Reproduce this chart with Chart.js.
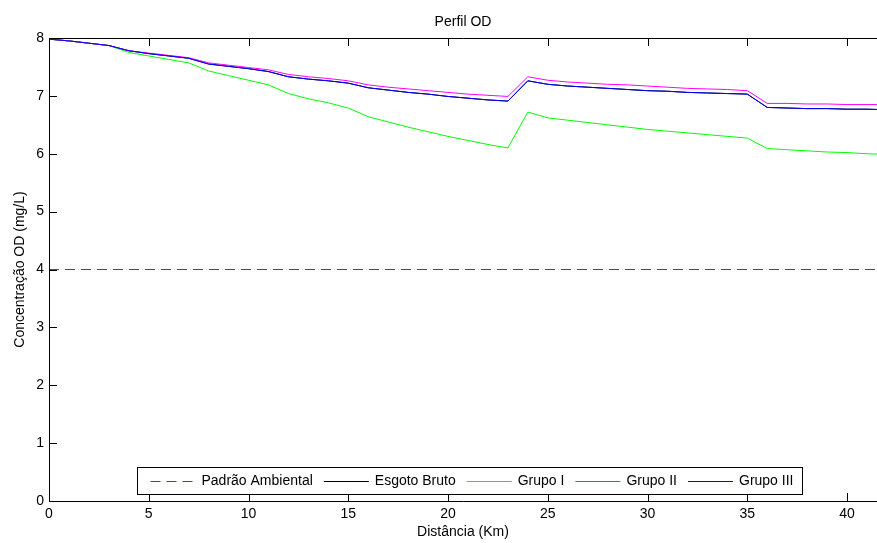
<!DOCTYPE html>
<html>
<head>
<meta charset="utf-8">
<script src="https://cdn.jsdelivr.net/npm/chart.js@4.4.1/dist/chart.umd.min.js"></script>
<style>
  body { margin: 0; background: #fff; }
  #wrap { width: 877px; height: 543px; overflow: hidden; }
</style>
</head>
<body>
<div id="wrap"><canvas id="perfil" width="877" height="543"></canvas></div>
<script>
const distancia = [0, 1, 2, 3, 4, 5, 6, 7, 8, 9, 10, 11, 12, 13, 14, 15, 16, 17, 18, 19, 20,
  21, 22, 23, 24, 25, 26, 27, 28, 29, 30, 31, 32, 33, 34, 35, 36, 37, 38, 39, 40, 41, 42]

const padraoX = [0, 42]
const padraoY = [4, 4]

const grupoIII = [7.98, 7.95, 7.91, 7.87, 7.78, 7.73, 7.69, 7.65, 7.55, 7.51, 7.47, 7.42, 7.33,
  7.29, 7.26, 7.22, 7.14, 7.10, 7.06, 7.03, 6.99, 6.96, 6.93, 6.91, 7.26, 7.20, 7.17, 7.15,
  7.13, 7.11, 7.09, 7.08, 7.06, 7.05, 7.04, 7.03, 6.80, 6.79, 6.78, 6.78, 6.77, 6.77, 6.76]

// esgoto bruto sits under grupo III, it is not visible on the picture
const esgotoBruto = [7.98, 7.95, 7.91, 7.87, 7.78, 7.73, 7.69, 7.65, 7.55, 7.51, 7.47, 7.42, 7.33,
  7.29, 7.26, 7.22, 7.14, 7.10, 7.06, 7.03, 6.99, 6.96, 6.93, 6.91, 7.26, 7.20, 7.17, 7.15,
  7.13, 7.11, 7.09, 7.08, 7.06, 7.05, 7.04, 7.03, 6.80, 6.79, 6.78, 6.78, 6.77, 6.77, 6.76]

const grupoII = [7.98, 7.95, 7.91, 7.87, 7.78, 7.74, 7.70, 7.66, 7.57, 7.53, 7.49, 7.45, 7.37,
  7.33, 7.30, 7.26, 7.19, 7.15, 7.12, 7.09, 7.06, 7.03, 7.01, 6.99, 7.33, 7.27, 7.24, 7.22,
  7.20, 7.19, 7.17, 7.15, 7.13, 7.12, 7.11, 7.09, 6.87, 6.87, 6.86, 6.86, 6.85, 6.85, 6.85]

const grupoI = [7.98, 7.95, 7.91, 7.87, 7.75, 7.69, 7.63, 7.57, 7.43, 7.35, 7.27, 7.19, 7.04,
  6.95, 6.88, 6.79, 6.64, 6.55, 6.46, 6.38, 6.30, 6.23, 6.16, 6.10, 6.72, 6.62, 6.58, 6.54,
  6.50, 6.46, 6.42, 6.39, 6.36, 6.33, 6.30, 6.27, 6.09, 6.07, 6.05, 6.03, 6.02, 6.00, 5.99]

const yTicks = [0, 1, 2, 3, 4, 5, 6, 7, 8]
const xTicks = [0, 5, 10, 15, 20, 25, 30, 35, 40]

function pares(xs, ys) {
  return xs.map((x, i) => ({ x: x, y: ys[i] }))
}

Chart.defaults.font.family = '"Liberation Sans", Arial, sans-serif'
Chart.defaults.font.size = 14
Chart.defaults.color = '#000'

// MATLAB style frame: inward ticks, box on top (right side is cut off in the original)
const moldura = {
  id: 'moldura',
  afterDatasetsDraw(chart) {
    const ctx = chart.ctx
    const a = chart.chartArea
    const x = chart.scales.x
    const y = chart.scales.y
    const len = 8
    ctx.save()
    ctx.strokeStyle = '#000'
    ctx.lineWidth = 1
    ctx.beginPath()
    ctx.moveTo(a.right, Math.round(a.top) + 0.5)
    ctx.lineTo(Math.round(a.left) + 0.5, Math.round(a.top) + 0.5)
    ctx.lineTo(Math.round(a.left) + 0.5, Math.round(a.bottom) + 0.5)
    ctx.lineTo(a.right, Math.round(a.bottom) + 0.5)
    yTicks.forEach(v => {
      const py = Math.round(y.getPixelForValue(v)) + 0.5
      ctx.moveTo(a.left, py)
      ctx.lineTo(a.left + len, py)
    })
    xTicks.forEach(v => {
      const px = Math.round(x.getPixelForValue(v)) + 0.5
      ctx.moveTo(px, a.bottom)
      ctx.lineTo(px, a.bottom - len)
      ctx.moveTo(px, a.top)
      ctx.lineTo(px, a.top + len)
    })
    ctx.stroke()
    ctx.restore()
  }
}

// legend box drawn inside the plot, like the original
const legenda = {
  id: 'legenda',
  afterDraw(chart) {
    const ctx = chart.ctx
    const sets = chart.data.datasets
    const amostra = 45
    ctx.save()
    ctx.font = '14px "Liberation Sans", Arial, sans-serif'
    let total = 13 + 9
    sets.forEach((ds, i) => {
      total += amostra + 6 + ctx.measureText(ds.label).width
      if (i < sets.length - 1) total += 11
    })
    const left = Math.round(469.5 - total / 2) + 0.5
    const top = 467.5
    const h = 27
    ctx.fillStyle = '#fff'
    ctx.fillRect(left, top, total, h)
    ctx.strokeStyle = '#000'
    ctx.lineWidth = 1
    ctx.strokeRect(left, top, Math.round(total), h)
    const cy = top + h / 2
    let cx = left + 13
    sets.forEach(ds => {
      ctx.beginPath()
      ctx.strokeStyle = ds.borderColor
      ctx.lineWidth = ds.borderWidth
      ctx.setLineDash(ds.borderDash || [])
      ctx.moveTo(cx, Math.round(cy) + 0.5)
      ctx.lineTo(cx + amostra, Math.round(cy) + 0.5)
      ctx.stroke()
      ctx.setLineDash([])
      cx += amostra + 6
      ctx.fillStyle = '#000'
      ctx.textBaseline = 'middle'
      ctx.textAlign = 'left'
      ctx.fillText(ds.label, cx, cy)
      cx += ctx.measureText(ds.label).width + 11
    })
    ctx.restore()
  }
}

const linha = (label, pts, cor, order, dash) => ({
  label: label,
  data: pts,
  borderColor: cor,
  backgroundColor: cor,
  borderWidth: 1,
  borderDash: dash || [],
  pointRadius: 0,
  tension: 0,
  fill: false,
  showLine: true,
  order: order
})

new Chart(document.getElementById('perfil').getContext('2d'), {
  type: 'scatter',
  data: {
    datasets: [
      linha('Padrão Ambiental', pares(padraoX, padraoY), '#ff0000', 4, [10, 6]),
      linha('Esgoto Bruto', pares(distancia, esgotoBruto), '#000000', 3),
      linha('Grupo I', pares(distancia, grupoI), '#00ff00', 2),
      linha('Grupo II', pares(distancia, grupoII), '#ff00ff', 1),
      linha('Grupo III', pares(distancia, grupoIII), '#0000ff', 0)
    ]
  },
  options: {
    responsive: false,
    animation: false,
    devicePixelRatio: 1,
    layout: { padding: 0 },
    scales: {
      x: {
        type: 'linear',
        min: 0,
        max: 41.5,
        grid: { display: false, drawTicks: false },
        border: { display: false },
        ticks: { stepSize: 5, includeBounds: false, padding: 5, maxRotation: 0 },
        title: { display: true, text: 'Distância (Km)', padding: { top: 0, bottom: 2 } },
        afterFit: (s) => { s.height = 42 }
      },
      y: {
        min: 0,
        max: 8,
        grid: { display: false, drawTicks: false },
        border: { display: false },
        ticks: { stepSize: 1, padding: 5 },
        title: { display: true, text: 'Concentração OD (mg/L)', padding: { top: 12, bottom: 0 } },
        afterFit: (s) => { s.width = 49 }
      }
    },
    plugins: {
      legend: { display: false },
      tooltip: { enabled: false },
      title: {
        display: true,
        fullSize: false,
        text: 'Perfil OD',
        font: { size: 14, weight: 'normal' },
        padding: { top: 14, bottom: 7.2 }
      }
    }
  },
  plugins: [moldura, legenda]
})
</script>
</body>
</html>
